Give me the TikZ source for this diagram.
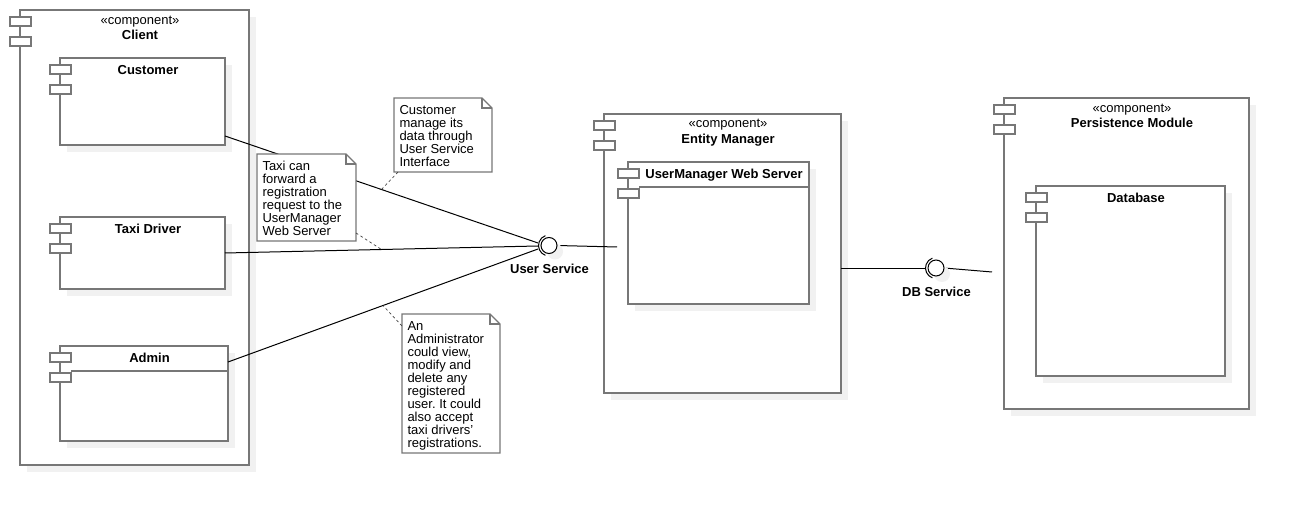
\documentclass[tikz,border=0pt]{standalone}
\usepackage{fontspec}
\setmainfont{Liberation Sans}
\usetikzlibrary{calc,shadows}
\definecolor{bord}{HTML}{777777}
\definecolor{shad}{HTML}{F1F1F1}
\newcommand\upx{0.75pt}
\newcommand\mkcomp[5]{%
  \node[comp, minimum width={(#4-#2)*\upx}, minimum height={(#5-#3)*\upx}] (#1) at (#2,#3) {};
  \draw[port] ($(#1.north west)+(-10,7)$) rectangle ++(21,9);
  \draw[port] ($(#1.north west)+(-10,27)$) rectangle ++(21,9);
}
\newcommand\mknote[6]{%
  \node[notebox, minimum width={(#4-#2)*\upx}, minimum height={(#5-#3)*\upx}] (#1) at (#2,#3) {};
  \draw[noteline] (#1.north west) -- ($(#1.north east)+(-10,0)$) -- ($(#1.north east)+(0,10)$) -- (#1.south east) -- (#1.south west) -- cycle;
  \draw[noteline] ($(#1.north east)+(-10,0)$) -- ($(#1.north east)+(-10,10)$) -- ($(#1.north east)+(0,10)$);
  \node[notetext] (#1-t) at ($(#1.north west)+(5.5,7.5)$) {#6};
}
\frenchspacing
\begin{document}
\begin{tikzpicture}[x=0.75pt,y=-0.75pt,
  every node/.style={inner sep=0pt, outer sep=0pt},
  comp/.style={rectangle, draw=bord, line width=1pt, fill=white, anchor=north west,
    drop shadow={shadow xshift=7*\upx, shadow yshift=-7*\upx, fill=shad, opacity=1}},
  port/.style={draw=bord, line width=1pt, fill=white},
  divider/.style={draw=bord, line width=1pt},
  stereo/.style={font={\fontsize{9.75pt}{11pt}\selectfont}, anchor=base},
  ctitle/.style={font={\bfseries\fontsize{9.75pt}{11pt}\selectfont}, anchor=base},
  notebox/.style={rectangle, fill=white, anchor=north west},
  noteline/.style={draw=bord, line width=1pt, line join=miter},
  notetext/.style={font={\fontsize{9.75pt}{9.75pt}\selectfont}, align=left, anchor=north west},
  wire/.style={draw=black, line width=0.75pt},
  link/.style={draw=black!75, line width=0.5pt, dash pattern=on 2pt off 2pt},
  ball/.style={circle, draw=black, line width=0.75pt, fill=white, minimum size=16*\upx,
    drop shadow={shadow xshift=6*\upx, shadow yshift=-6*\upx, fill=shad, opacity=1}},
  socket/.style={draw=black, line width=0.75pt},
  iflabel/.style={font={\bfseries\fontsize{9.75pt}{11pt}\selectfont}, anchor=base}
]
\fill[white] (0,0) rectangle (1289,505);
\useasboundingbox (0,0) rectangle (1289,505);

% Client component
\mkcomp{client}{20}{10}{249}{465}
\node[stereo] (client-s) at ($(client.north)+(5.5,15)$) {«component»};
\node[ctitle] (client-t) at ($(client.north)+(5.5,29.5)$) {Client};

\mkcomp{cust}{60}{58}{225}{145}
\node[ctitle] (cust-t) at ($(cust.north)+(5.5,17)$) {Customer};

\mkcomp{taxi}{60}{217}{225}{289}
\node[ctitle] (taxi-t) at ($(taxi.north)+(5.5,17)$) {Taxi Driver};

\mkcomp{admin}{60}{346}{228}{441}
\node[ctitle] (admin-t) at ($(admin.north)+(5.5,17)$) {Admin};
\draw[divider] ($(admin.north west)+(11,25)$) -- ($(admin.north east)+(0,25)$);

% Entity Manager
\mkcomp{em}{604}{114}{841}{393}
\node[stereo] (em-s) at ($(em.north)+(5.5,14)$) {«component»};
\node[ctitle] (em-t) at ($(em.north)+(5.5,29.5)$) {Entity Manager};

\mkcomp{umws}{628}{162}{809}{304}
\node[ctitle] (umws-t) at ($(umws.north)+(5.5,17)$) {UserManager Web Server};
\draw[divider] ($(umws.north west)+(11,25)$) -- ($(umws.north east)+(0,25)$);

% Persistence Module
\mkcomp{pm}{1004}{98}{1249}{409}
\node[stereo] (pm-s) at ($(pm.north)+(5.5,14.5)$) {«component»};
\node[ctitle] (pm-t) at ($(pm.north)+(5.5,29.5)$) {Persistence Module};

\mkcomp{dbx}{1036}{186}{1225}{376}
\node[ctitle] (dbx-t) at ($(dbx.north)+(5.5,17)$) {Database};

% interface balls (positions)
\coordinate (usc) at (549,245.5);
\coordinate (dbc) at (936,268);

% wires
\coordinate (c1) at ($(cust.south east)+(0,-9)$);
\coordinate (c2) at ($(usc)+(-11,-2.5)$);
\coordinate (t1) at ($(taxi.south east)+(0,-36)$);
\coordinate (t2) at ($(usc)+(-11,0.5)$);
\coordinate (a1) at ($(admin.north east)+(0,16)$);
\coordinate (a2) at ($(usc)+(-11,3.5)$);
\draw[wire] (c1) -- (c2);
\draw[wire] (t1) -- (t2);
\draw[wire] (a1) -- (a2);
\draw[wire] ($(usc)+(8,0)$) -- ($(em.north west)+(13,133)$);
\draw[wire] ($(em.north east)+(0,155)$) -- ($(dbc)+(-10.5,1)$);
\draw[wire] ($(dbc)+(8,0)$) -- ($(pm.north west)+(-12,174)$);

% balls and sockets
\node[ball] (us) at (usc) {};
\draw[socket] ($(us.center)+(110:10.5)$) arc[start angle=110, end angle=250, radius=10.5];
\node[iflabel] (us-l) at (549.5,274) {User Service};

\node[ball] (db) at (dbc) {};
\draw[socket] ($(db.center)+(110:10.5)$) arc[start angle=110, end angle=250, radius=10.5];
\node[iflabel] (db-l) at (936.5,297) {DB Service};

% notes
\mknote{n1}{394}{98}{492}{172}{Customer\\manage its\\data through\\User Service\\Interface}
\mknote{n2}{257}{154}{356}{241}{Taxi can\\forward a\\registration\\request to the\\UserManager\\Web Server}
\mknote{n3}{402}{314}{500}{453}{An\\Administrator\\could view,\\modify and\\delete any\\registered\\user. It could\\also accept\\taxi drivers'\\registrations.}

% note links
\draw[link] ($(n1.south west)+(4,0)$) -- ($(c1)!0.5!(c2)$);
\draw[link] ($(n2.south east)+(0,-8)$) -- ($(t1)!0.5!(t2)$);
\draw[link] ($(n3.north west)+(0,12)$) -- ($(a1)!0.5!(a2)$);
\end{tikzpicture}
\end{document}
